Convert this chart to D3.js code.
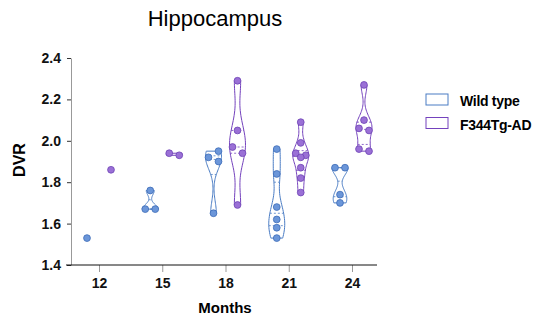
<!DOCTYPE html>
<html>
<head>
<meta charset="utf-8">
<script src="https://cdn.jsdelivr.net/npm/d3@7"></script>
<style>
  body { margin: 0; background: #fff; }
  svg { display: block; font-family: "Liberation Sans", Arial, sans-serif; }
  .tick text { font-size: 14px; font-weight: bold; fill: #111; }
</style>
</head>
<body>
<div id="chart"></div>
<script>
const months = [12, 15, 18, 21, 24];
const seriesNames = ['Wild type', 'F344Tg-AD'];
const yTicks = [1.4, 1.6, 1.8, 2.0, 2.2, 2.4];

// DVR values per month
const wildType = [
  [1.53],
  [1.76, 1.67, 1.67],
  [1.95, 1.92, 1.90, 1.65],
  [1.96, 1.84, 1.68, 1.62, 1.58, 1.53],
  [1.87, 1.87, 1.74, 1.70]
];
const transgenic = [
  [1.86],
  [1.94, 1.93],
  [2.29, 2.05, 1.97, 1.94, 1.69],
  [2.09, 1.99, 1.94, 1.93, 1.92, 1.87, 1.82, 1.75],
  [2.27, 2.10, 2.05, 2.06, 1.95, 1.96]
];

const width = 547, height = 320;
const strokes = ['#4a7cc4', '#7442bd'];
const fills = ['#6b96d9', '#9a70d6'];
const pointStrokes = ['#3d6cb8', '#6e44b5'];

const svg = d3.select('#chart').append('svg')
  .attr('width', width)
  .attr('height', height);

const x = d3.scalePoint().domain(months).range([99, 352]);
const y = d3.scaleLinear().domain([1.4, 2.4]).range([265, 58]);
const groupOffset = 12;
const maxHalf = 8;
const r = 3.4;

// title
svg.append('text')
  .attr('x', 215).attr('y', 26)
  .attr('text-anchor', 'middle')
  .style('font-size', '22px')
  .text('Hippocampus');

// y axis
const yAxis = svg.append('g')
  .attr('transform', 'translate(71,0)')
  .call(d3.axisLeft(y).tickValues(yTicks).tickSize(4).tickSizeOuter(0).tickPadding(6)
    .tickFormat(d3.format('.1f')));
yAxis.select('.domain').attr('stroke', '#999');
yAxis.selectAll('.tick line').attr('stroke', '#333');

// x axis
const xAxis = svg.append('g')
  .attr('transform', 'translate(0,265)')
  .call(d3.axisBottom(x).tickSize(7).tickSizeOuter(0).tickPadding(6));
xAxis.select('.domain').remove();
xAxis.selectAll('.tick line').attr('stroke', '#999');
xAxis.append('line')
  .attr('x1', 66).attr('x2', 377)
  .attr('stroke', '#111');

// axis titles
svg.append('text')
  .attr('x', 225).attr('y', 313)
  .attr('text-anchor', 'middle')
  .style('font-size', '15px').style('font-weight', 'bold')
  .text('Months');
svg.append('text')
  .attr('transform', 'translate(25,160) rotate(-90)')
  .attr('text-anchor', 'middle')
  .style('font-size', '16px').style('font-weight', 'bold')
  .text('DVR');

function kde(values) {
  const n = values.length;
  const sd = d3.deviation(values) || 0.01;
  const h = Math.max(0.5 * 1.06 * sd * Math.pow(n, -0.2), 0.015);
  const lo = d3.min(values), hi = d3.max(values);
  const steps = 50;
  const pts = d3.range(steps + 1).map(i => {
    const v = lo + (hi - lo) * i / steps;
    const dens = d3.sum(values, d => Math.exp(-0.5 * ((v - d) / h) ** 2));
    return [v, dens];
  });
  const maxD = d3.max(pts, p => p[1]);
  return pts.map(p => [p[0], p[1] / maxD * maxHalf]);
}

function halfAt(curve, v) {
  let best = curve[0];
  curve.forEach(p => { if (Math.abs(p[0] - v) < Math.abs(best[0] - v)) best = p; });
  return best[1];
}

// spread points whose values nearly overlap, side by side
function dodge(values) {
  const idx = values.map((v, i) => i).sort((a, b) => values[a] - values[b]);
  const offs = values.map(() => 0);
  let cluster = [idx[0]];
  const flush = () => {
    const k = cluster.length;
    if (k > 1) {
      const span = y(values[cluster[0]]) - y(values[cluster[k - 1]]);
      if (k === 3 && span < 2 * r) {
        [0, 5, -5].forEach((o, j) => { offs[cluster[j]] = o; });
      } else {
        cluster.forEach((c, j) => { offs[c] = j % 2 === 0 ? 5 : -5; });
      }
    }
  };
  for (let j = 1; j < idx.length; j++) {
    const prev = cluster[cluster.length - 1];
    if (Math.abs(y(values[idx[j]]) - y(values[prev])) < 2 * r + 0.5) {
      cluster.push(idx[j]);
    } else {
      flush();
      cluster = [idx[j]];
    }
  }
  flush();
  return offs;
}

[wildType, transgenic].forEach((series, s) => {
  const g = svg.append('g').attr('class', 'series-' + s);
  series.forEach((vals, i) => {
    const cx = x(months[i]) + (s === 0 ? -groupOffset : groupOffset);
    if (vals.length > 1) {
      const curve = kde(vals);
      const area = d3.area()
        .y(d => y(d[0]))
        .x0(d => cx - d[1])
        .x1(d => cx + d[1])
        .curve(d3.curveBasis);
      g.append('path')
        .attr('d', area(curve))
        .attr('fill', '#fff')
        .attr('stroke', strokes[s])
        .attr('stroke-width', 1);
      if (vals.length >= 3) {
        const sorted = vals.slice().sort(d3.ascending);
        [0.25, 0.5, 0.75].forEach(q => {
          const v = d3.quantile(sorted, q);
          const hw = halfAt(curve, v);
          g.append('line')
            .attr('x1', cx - hw).attr('x2', cx + hw)
            .attr('y1', y(v)).attr('y2', y(v))
            .attr('stroke', strokes[s])
            .attr('stroke-width', 0.8)
            .attr('stroke-dasharray', '2,2');
        });
      }
    }
    const offs = dodge(vals);
    g.selectAll('circle.p' + i)
      .data(vals)
      .enter().append('circle')
      .attr('cx', (d, k) => cx + offs[k])
      .attr('cy', d => y(d))
      .attr('r', r)
      .attr('fill', fills[s])
      .attr('stroke', pointStrokes[s])
      .attr('stroke-width', 0.8);
  });
});

// legend
const legend = svg.append('g').attr('transform', 'translate(426,94)');
seriesNames.forEach((name, i) => {
  const row = legend.append('g').attr('transform', `translate(0,${i * 23.5})`);
  row.append('rect')
    .attr('width', 22).attr('height', 11)
    .attr('fill', '#fff')
    .attr('stroke', strokes[i]);
  row.append('text')
    .attr('x', 34).attr('y', 12)
    .style('font-size', '14px').style('font-weight', 'bold')
    .style('letter-spacing', '-0.3px')
    .text(name);
});
</script>
</body>
</html>
